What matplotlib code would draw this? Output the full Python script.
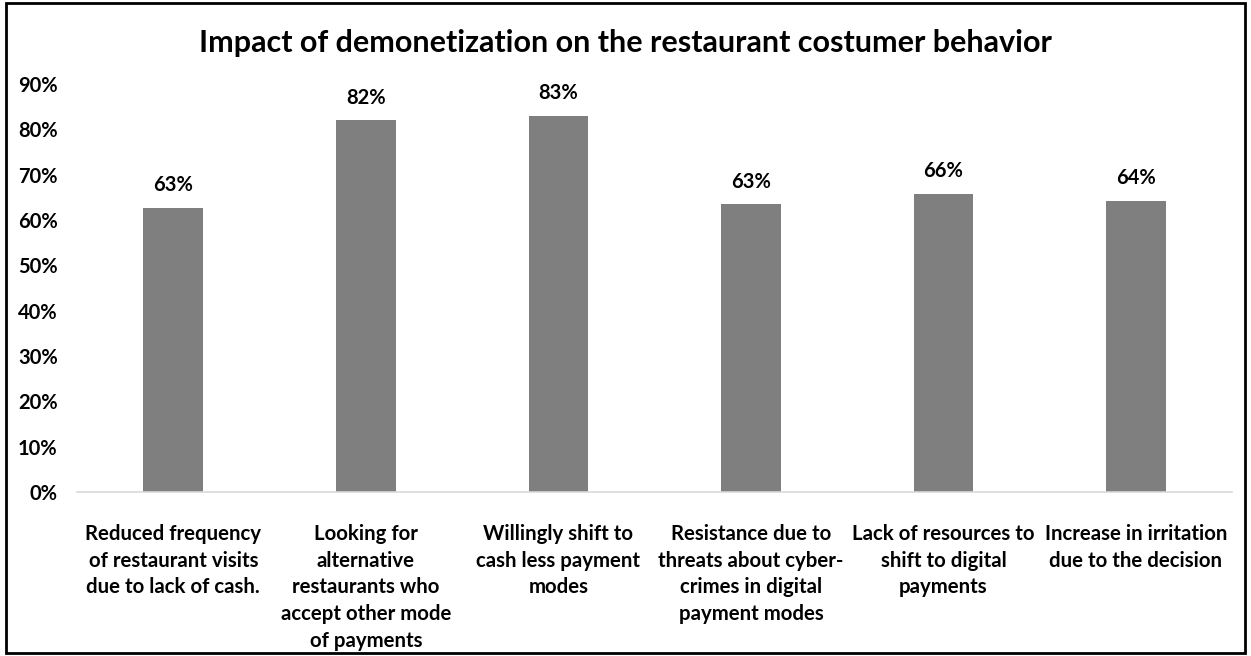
import matplotlib.pyplot as plt
from matplotlib.ticker import PercentFormatter
from matplotlib.patches import Rectangle

plt.rcParams["font.family"] = ["Lato", "DejaVu Sans"]
plt.rcParams["font.weight"] = "bold"

categories = [
    "Reduced frequency\nof restaurant visits\ndue to lack of cash.",
    "Looking for\nalternative\nrestaurants who\naccept other mode\nof payments",
    "Willingly shift to\ncash less payment\nmodes",
    "Resistance due to\nthreats about cyber-\ncrimes in digital\npayment modes",
    "Lack of resources to\nshift to digital\npayments",
    "Increase in irritation\ndue to the decision",
]
values = [0.627, 0.82, 0.83, 0.635, 0.658, 0.642]
value_labels = ["63%", "82%", "83%", "63%", "66%", "64%"]
y_ticks = [0, 0.1, 0.2, 0.3, 0.4, 0.5, 0.6, 0.7, 0.8, 0.9]

fig = plt.figure(figsize=(12.51, 6.56), dpi=100)
ax = fig.add_axes([0.0616, 0.25, 0.9234, 0.622])

x = range(len(categories))
bars = ax.bar(x, values, width=0.31, color="#7f7f7f", zorder=2)
for b, lab in zip(bars, value_labels):
    ax.annotate(lab, (b.get_x() + b.get_width() / 2, b.get_height()),
                xytext=(0, 9), textcoords="offset points",
                ha="center", va="bottom", fontsize=14.5, fontweight="bold")

ax.set_xlim(-0.5, len(categories) - 0.5)
ax.set_ylim(0, 0.9)
ax.set_yticks(y_ticks)
ax.yaxis.set_major_formatter(PercentFormatter(1.0, decimals=0))
ax.set_xticks(list(x))
ax.set_xticklabels(categories, fontsize=14.7, fontweight="bold", linespacing=1.42)
ax.tick_params(axis="y", length=0, labelsize=14.5, pad=14)
ax.tick_params(axis="x", length=0, pad=23)

for s in ["top", "right", "left"]:
    ax.spines[s].set_visible(False)
ax.spines["bottom"].set_color("#d9d9d9")
ax.spines["bottom"].set_linewidth(1.2)

fig.text(0.5, 0.935, "Impact of demonetization on the restaurant costumer behavior",
         ha="center", va="center", fontsize=22, fontweight="bold")

fig.patches.append(Rectangle((0.005, 0.005), 0.99, 0.99, transform=fig.transFigure,
                             fill=False, edgecolor="black", linewidth=2))

fig.savefig("out.png", dpi=100)
